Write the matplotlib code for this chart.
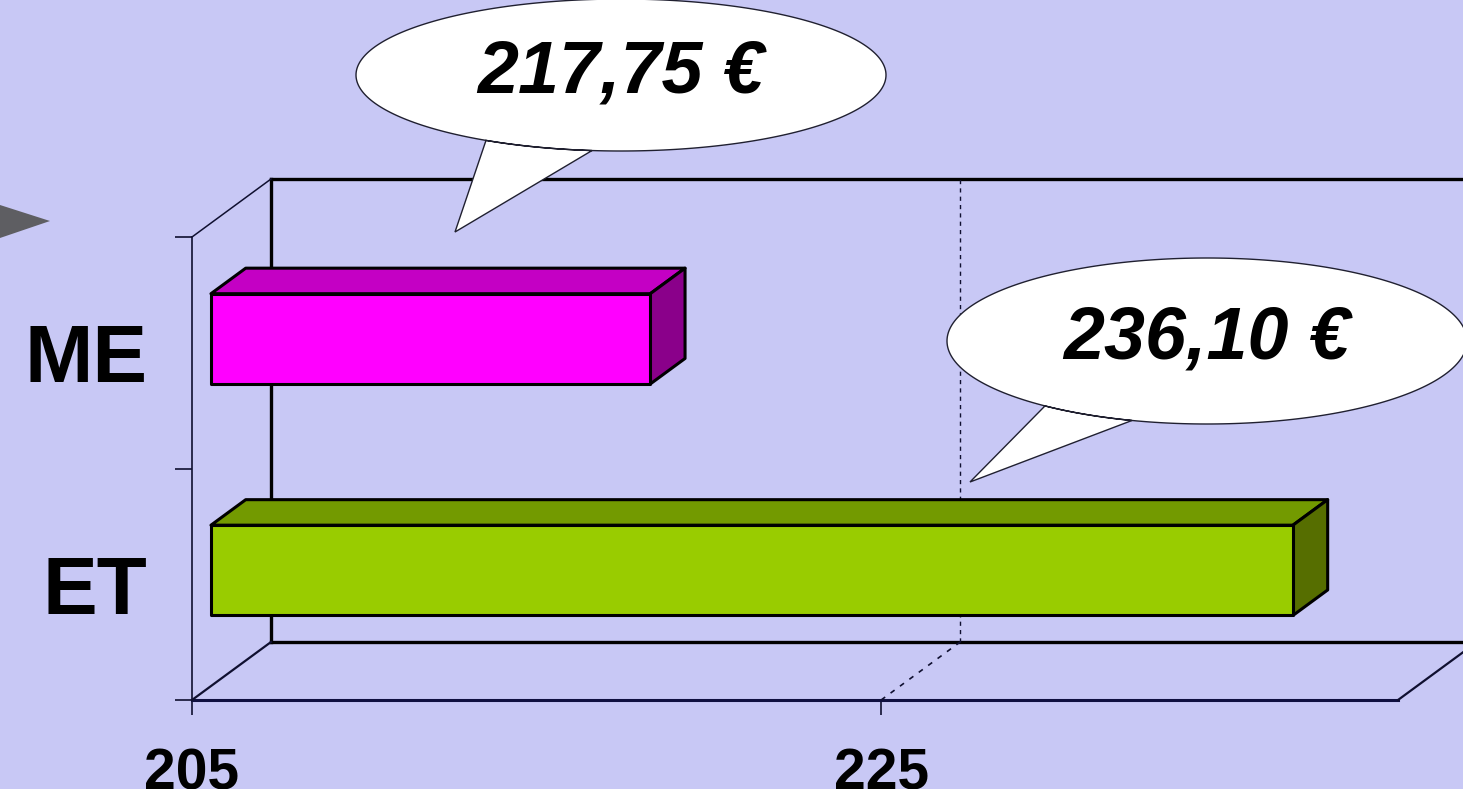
import numpy as np
import matplotlib.pyplot as plt
from matplotlib.patches import Polygon
from matplotlib.lines import Line2D
from matplotlib.transforms import IdentityTransform

# data
categories = ["ET", "ME"]
values = [236.4, 217.75]   # bar lengths
value_labels = ["236,10 €", "217,75 €"]
front_colors = ["#99CC00", "#FF00FF"]
top_colors = ["#739A00", "#C400C4"]
side_colors = ["#566E00", "#8A008A"]
x_ticks = [205, 225]
x_min, x_max = 205, 240

W, H = 1463, 789
bg = "#C8C8F5"
plt.rcParams['font.family'] = ['Liberation Sans', 'DejaVu Sans']

fig = plt.figure(figsize=(W / 100, H / 100), dpi=100, facecolor=bg)
# front plane of the 3d box
ax = fig.add_axes([192 / W, 1 - 700 / H, (1398 - 192) / W, (700 - 237) / H])
ax.set_facecolor("none")
ax.set_xlim(x_min, x_max)
ax.set_ylim(-0.5, 1.5)
for s in ["top", "right"]:
    ax.spines[s].set_visible(False)
ax.spines["left"].set_linewidth(1.2)
ax.spines["left"].set_color("#101030")
ax.spines["bottom"].set_linewidth(2.2)
ax.spines["bottom"].set_color("#101040")

ax.set_xticks(x_ticks)
ax.set_xticklabels([str(t) for t in x_ticks], fontsize=41, fontweight="bold")
ax.tick_params(axis="x", length=11, width=1.2, color="#101030", pad=23)
ax.set_yticks([-0.5, 0.5, 1.5])
ax.set_yticklabels([])
ax.tick_params(axis="y", length=12, width=1.2, color="#101030")
ax.set_yticks([0, 1], minor=True)
ax.set_yticklabels(categories, minor=True, fontsize=59, fontweight="bold")
ax.tick_params(axis="y", which="minor", length=0, pad=32)

# depth offset in pixels (x right, y up)
DX, DY = 79, 58
ID = IdentityTransform()


def pt(x, y, d):
    px, py = ax.transData.transform((x, y))
    return (px + d * DX, py + d * DY)


def line(p0, p1, **kw):
    fig.add_artist(Line2D([p0[0], p1[0]], [p0[1], p1[1]], transform=ID, **kw))


# back wall and floor edges
line(pt(x_min, -0.5, 1), pt(x_min, 1.5, 1), color="black", lw=2.4, zorder=1)
line(pt(x_min, 1.5, 1), pt(x_max + 5, 1.5, 1), color="black", lw=2.4, zorder=1)
line(pt(x_min, -0.5, 1), pt(x_max + 5, -0.5, 1), color="black", lw=2.4, zorder=1)
line(pt(x_min, 1.5, 0), pt(x_min, 1.5, 1), color="#101030", lw=1.1, zorder=1)
line(pt(x_min, -0.5, 0), pt(x_min, -0.5, 1), color="#101030", lw=1.6, zorder=1)
line(pt(x_max, -0.5, 0), pt(x_max, -0.5, 1), color="#101030", lw=1.6, zorder=1)

# gridline at 225
for t in x_ticks[1:]:
    line(pt(t, -0.5, 0), pt(t, -0.5, 1), color="#101030", lw=1.2, ls=(0, (3, 4)), zorder=1)
    line(pt(t, -0.5, 1), pt(t, 1.5, 1), color="#101030", lw=1.0, ls=(0, (3, 3)), zorder=1)

# 3d bars
h = 0.195
d0, d1 = 0.24, 0.68
for i, v in enumerate(values):
    y0, y1 = i - h, i + h
    front = [pt(x_min, y0, d0), pt(v, y0, d0), pt(v, y1, d0), pt(x_min, y1, d0)]
    top = [pt(x_min, y1, d0), pt(v, y1, d0), pt(v, y1, d1), pt(x_min, y1, d1)]
    side = [pt(v, y0, d0), pt(v, y0, d1), pt(v, y1, d1), pt(v, y1, d0)]
    for verts, c in [(top, top_colors[i]), (side, side_colors[i]), (front, front_colors[i])]:
        fig.add_artist(Polygon(verts, closed=True, transform=ID, facecolor=c,
                               edgecolor="black", lw=2.2, joinstyle="round", zorder=3))


# speech bubbles (image pixel coords, y down)
def bubble(cx, cy, a, b, bx1, bx2, tip, text):
    t1 = np.arccos((bx1 - cx) / a)
    t2 = np.arccos((bx2 - cx) / a)
    ts = np.linspace(t1, t2 + 2 * np.pi, 300)
    xs = cx + a * np.cos(ts)
    ys = cy + b * np.sin(ts)
    verts = [(x, H - y) for x, y in zip(xs, ys)] + [(tip[0], H - tip[1])]
    fig.add_artist(Polygon(verts, closed=True, transform=ID, facecolor="white",
                           edgecolor="#202030", lw=1.0, zorder=5))
    fig.text(cx / W, 1 - (cy - 2) / H, text, fontsize=53, fontweight="bold",
             fontstyle="italic", ha="center", va="center", zorder=6)


bubble(621, 75, 265, 76, 592, 486, (455, 232), value_labels[1])
bubble(1207, 341, 260, 83, 1132, 1045, (970, 482), value_labels[0])

# grey arrow at the left edge
arrow = [(0, H - 205), (50, H - 221), (0, H - 238)]
fig.add_artist(Polygon(arrow, closed=True, transform=ID, facecolor="#5E5E62",
                       edgecolor="none", zorder=2))

fig.savefig("out.png", dpi=100, facecolor=bg)
